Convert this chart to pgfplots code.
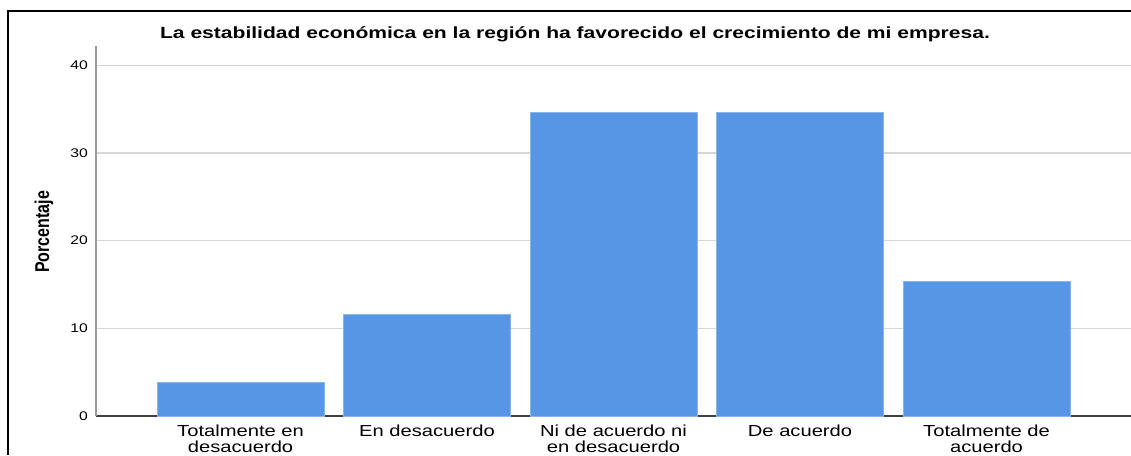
\documentclass[border=0pt]{standalone}
\usepackage{fontspec}
\setmainfont{Liberation Sans}
\newfontfamily\wide[FakeStretch=1.26]{Liberation Sans}
\newfontfamily\widetitle[FakeStretch=1.3]{Liberation Sans}
\newfontfamily\narrow[FakeStretch=0.8]{Liberation Sans}
\usepackage{pgfplots}
\pgfplotsset{compat=1.18}
\definecolor{barblue}{RGB}{86,150,229}
\definecolor{gridgray}{RGB}{215,215,215}
\begin{document}
\begin{tikzpicture}[x=1pt,y=1pt]
\useasboundingbox (0,0) rectangle (1131,455);
% outer frame (top and left edges visible)
\draw[black, line width=2pt] (8,0) -- (8,444) -- (1131,444);
\begin{axis}[
  at={(96pt,39pt)}, anchor=south west,
  scale only axis, width=1035pt, height=370pt,
  xmin=-0.775, xmax=4.775, ymin=0, ymax=42.2,
  axis x line*=bottom, axis y line*=left,
  x axis line style={-, draw=black!75, line width=1.2pt},
  y axis line style={-, draw=black!40, line width=2pt},
  major tick length=0pt,
  ytick={0,10,20,30,40},
  ymajorgrids, major grid style={draw=gridgray, line width=1.3pt},
  xtick={0,1,2,3,4},
  xticklabels={{Totalmente en\\desacuerdo},{En desacuerdo},{Ni de acuerdo ni\\en desacuerdo},{De acuerdo},{Totalmente de\\acuerdo}},
  xticklabel style={align=center, anchor=north, inner sep=0pt, yshift=-9pt,
    font=\wide\fontsize{16}{15.5}\selectfont},
  yticklabel style={anchor=east, inner sep=0pt, xshift=-8pt,
    font=\wide\fontsize{12.5}{14}\selectfont},
  /pgf/number format/assume math mode=true,
]
\addplot[ybar, bar width=167pt, fill=barblue, draw=barblue!70!white, line width=0.8pt]
  coordinates {(0,3.85) (1,11.54) (2,34.62) (3,34.62) (4,15.38)};
\end{axis}
\node[font=\widetitle\bfseries\fontsize{16.2}{18}\selectfont, anchor=base] at (575,416)
  {La estabilidad económica en la región ha favorecido el crecimiento de mi empresa.};
\node[rotate=90, font=\narrow\bfseries\fontsize{20}{24}\selectfont] at (44,223) {Porcentaje};
\end{tikzpicture}
\end{document}
